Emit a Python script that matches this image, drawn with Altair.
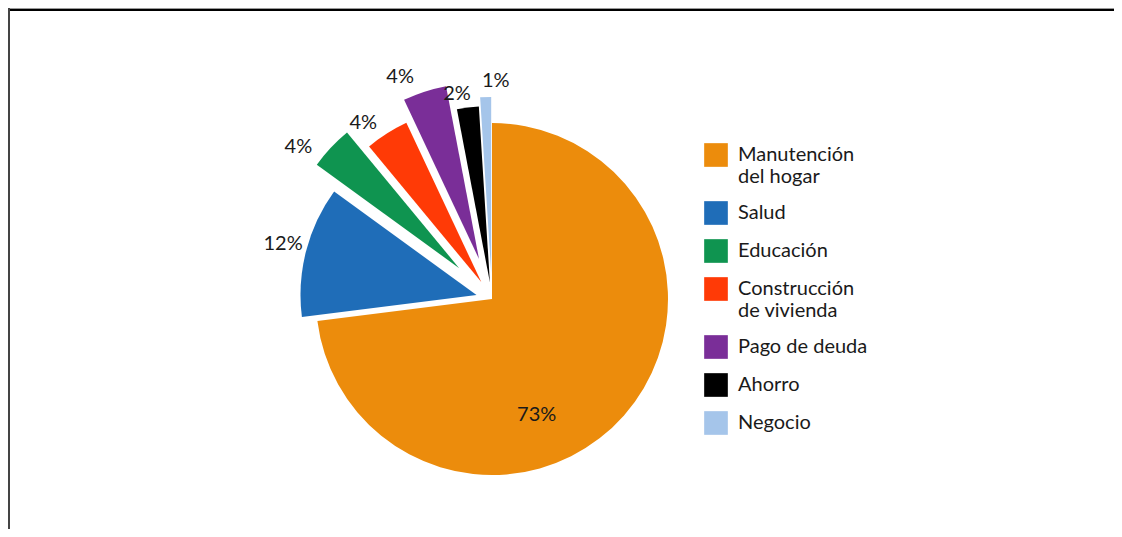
import altair as alt
import pandas as pd

# ---- data ----
CATEGORIES = [
    "Manutención del hogar",
    "Salud",
    "Educación",
    "Construcción de vivienda",
    "Pago de deuda",
    "Ahorro",
    "Negocio",
]
VALUES = [73, 12, 4, 4, 4, 2, 1]
LABELS = ["73%", "12%", "4%", "4%", "4%", "2%", "1%"]

# ---- styles ----
COLORS = ["#EC8C0C", "#1F6DB8", "#0F9450", "#FF3A06", "#7A2E98", "#000000", "#A5C5EA"]
EXPLODE = [0, 16, 45, 20, 42, 17, 26]          # px pulled out from the centre
LABEL_R = [124, 216, 246, 218, 240, 208, 218]   # label distance from centre
LABEL_DA = [27.5, 0.3, -5.1, -3.8, -4.5, -2.5, 2.8]  # label angle shift (deg)

CX, CY, R = 488, 295, 176
FONT = "Lato"

df = pd.DataFrame({
    "cat": CATEGORIES,
    "value": VALUES,
    "label": LABELS,
    "order": list(range(len(CATEGORIES))),
    "explode": EXPLODE,
    "lr": LABEL_R,
    "lda": LABEL_DA,
})

base = alt.Chart(df).transform_window(
    cum="sum(value)", sort=[alt.SortField("order")], frame=[None, 0]
).transform_joinaggregate(
    total="sum(value)"
).transform_calculate(
    t0="(datum.cum - datum.value) / datum.total * 2 * PI",
    t1="datum.cum / datum.total * 2 * PI",
).transform_calculate(
    mid="(datum.t0 + datum.t1) / 2",
).transform_calculate(
    px=f"{CX} + datum.explode * sin(datum.mid)",
    py=f"{CY} - datum.explode * cos(datum.mid)",
    la="datum.mid + datum.lda * PI / 180",
).transform_calculate(
    lx=f"{CX} + datum.lr * sin(datum.la)",
    ly=f"{CY} - datum.lr * cos(datum.la)",
)

legend_expr = (
    "length(datum.label) > 15 ? "
    "[substring(datum.label, 0, indexof(datum.label, ' ')), "
    "substring(datum.label, indexof(datum.label, ' ') + 1)] : datum.label"
)

arcs = base.mark_arc(radius=R).encode(
    x=alt.X("px:Q", scale=None, axis=None),
    y=alt.Y("py:Q", scale=None, axis=None),
    theta=alt.Theta("t0:Q", scale=None),
    theta2="t1:Q",
    color=alt.Color(
        "cat:N",
        scale=alt.Scale(domain=CATEGORIES, range=COLORS),
        sort=CATEGORIES,
        legend=alt.Legend(
            title=None,
            orient="none",
            legendX=700,
            legendY=139,
            symbolType="square",
            symbolSize=560,
            symbolStrokeWidth=0,
            symbolOpacity=1,
            labelFont=FONT,
            labelFontSize=20,
            labelColor="#1a1a1a",
            labelLimit=400,
            labelOffset=10,
            rowPadding=14,
            labelExpr=legend_expr,
        ),
    ),
)

texts = base.mark_text(
    font=FONT, fontSize=20, color="#1a1a1a", align="center", baseline="middle"
).encode(
    x=alt.X("lx:Q", scale=None, axis=None),
    y=alt.Y("ly:Q", scale=None, axis=None),
    text="label:N",
)

# frame lines (top and left), drawn at the visible edge of the page area
frame_top_grey = alt.Chart(df).mark_rule(color="#9a9a9a", strokeWidth=1).encode(
    x=alt.value(4), x2=alt.value(1110), y=alt.value(4.5)
)
frame_top = alt.Chart(df).mark_rule(color="#000000", strokeWidth=2).encode(
    x=alt.value(4), x2=alt.value(1110), y=alt.value(6)
)
frame_left = alt.Chart(df).mark_rule(color="#444444", strokeWidth=2).encode(
    x=alt.value(5), y=alt.value(4), y2=alt.value(540)
)

chart = alt.layer(frame_top_grey, frame_top, frame_left, arcs, texts).properties(
    width=1110,
    height=525,
    autosize=alt.AutoSizeParams(type="none"),
    padding={"left": -4, "top": -4, "right": 0, "bottom": 0},
).configure_view(
    stroke=None
).configure(
    style={"guide-label": {"lineHeight": 22}}
)

chart.save("out.html", embed_options={"renderer": "svg", "actions": False})
